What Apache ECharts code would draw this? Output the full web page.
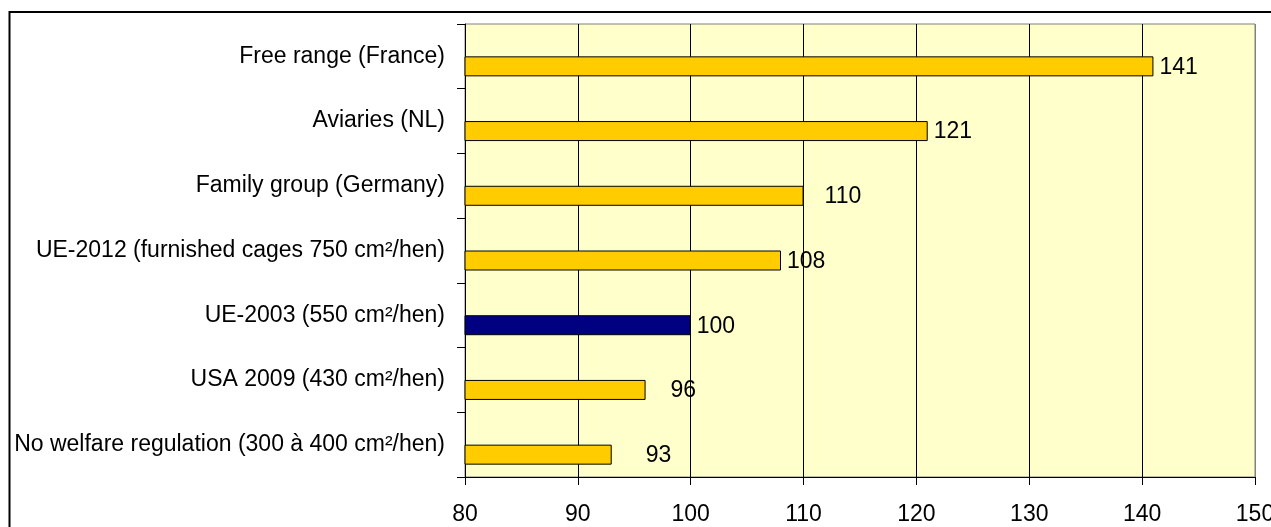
<!DOCTYPE html>
<html>
<head>
<meta charset="utf-8">
<script src="https://cdn.jsdelivr.net/npm/echarts@6/dist/echarts.min.js"></script>
<style>
html,body{margin:0;padding:0;background:#fff;}
#chart{width:1271px;height:527px;}
</style>
</head>
<body>
<div id="chart"></div>
<script>
const categories = [
  'Free range (France)',
  'Aviaries (NL)',
  'Family group (Germany)',
  'UE-2012 (furnished cages 750 cm²/hen)',
  'UE-2003 (550 cm²/hen)',
  'USA 2009 (430 cm²/hen)',
  'No welfare regulation (300 à 400 cm²/hen)'
];
const values = [141, 121, 110, 108, 100, 96, 93];
const highlightCategory = 'UE-2003 (550 cm²/hen)';
const xMin = 80, xMax = 150, xStep = 10;

const FONT = '"Liberation Sans", Arial, sans-serif';
const FS = 23;
// extra manual label shifts (as in the original, some labels were dragged right)
const extraDistance = {2: 15, 5: 19, 6: 28};

const chart = echarts.init(document.getElementById('chart'), null, {renderer: 'canvas'});

const barData = values.map((v, i) => ({
  value: v,
  itemStyle: {
    color: categories[i] === highlightCategory ? '#000080' : '#FFCC00',
    borderColor: '#000',
    borderWidth: 1
  },
  label: {distance: 6 + (extraDistance[i] || 0)}
}));

const nLines = Math.round((xMax - xMin) / xStep) + 1;
const splitColors = [];
for (let k = 0; k < nLines; k++) splitColors.push(k === nLines - 1 ? '#808080' : '#000');

chart.setOption({
  animation: false,
  backgroundColor: '#fff',
  textStyle: {fontFamily: FONT},
  grid: {
    left: 465, top: 24, right: 16, bottom: 50,
    containLabel: false, outerBoundsMode: 'none',
    show: true, backgroundColor: '#FFFFCC', borderColor: '#808080', borderWidth: 1
  },
  xAxis: {
    type: 'value', min: xMin, max: xMax, interval: xStep,
    axisLine: {show: true, lineStyle: {color: '#000', width: 1}},
    axisTick: {show: true, length: 8, lineStyle: {color: '#000'}},
    axisLabel: {fontSize: FS, color: '#000', fontFamily: FONT, margin: 26, showMaxLabel: true, showMinLabel: true, hideOverlap: false},
    splitLine: {show: true, lineStyle: {color: splitColors, width: 1}}
  },
  yAxis: {
    type: 'category', data: categories, inverse: true,
    axisLine: {show: true, lineStyle: {color: '#000', width: 1}},
    axisTick: {show: true, length: 8, lineStyle: {color: '#000'}},
    axisLabel: {fontSize: FS, color: '#000', fontFamily: FONT, margin: 20}
  },
  series: [
    {
      type: 'bar', name: 'spacer', data: values.map(() => null),
      barWidth: 20, barGap: '0%', silent: true
    },
    {
      type: 'bar', name: 'index', data: barData,
      barWidth: 20, barGap: '0%',
      label: {
        show: true, position: 'right', offset: [0, 1],
        fontSize: FS, color: '#000', fontFamily: FONT
      }
    }
  ],
  graphic: [{
    type: 'rect', silent: true, z: 100,
    shape: {x: 9.5, y: 12, width: 1400, height: 700},
    style: {fill: 'none', stroke: '#000', lineWidth: 2}
  }]
});
</script>
</body>
</html>
